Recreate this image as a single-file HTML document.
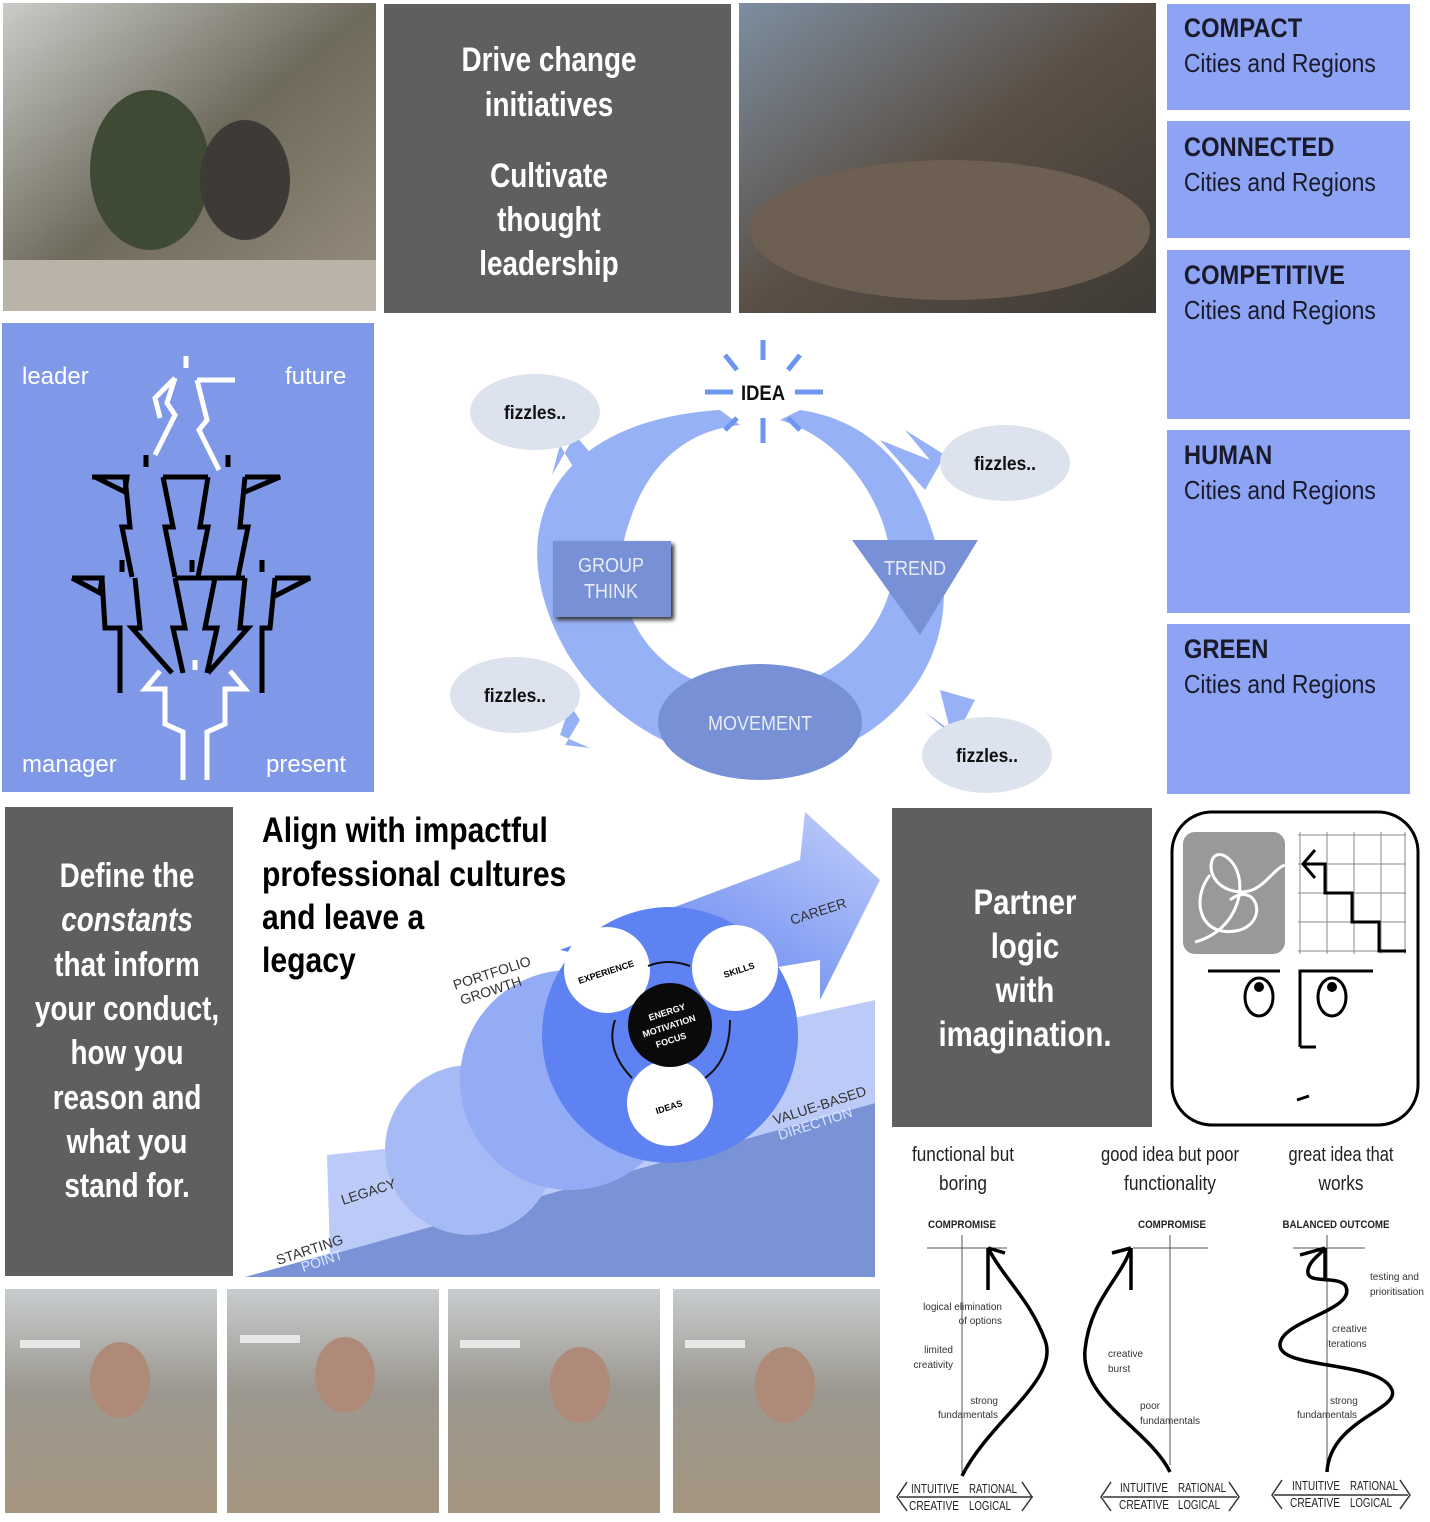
<!DOCTYPE html>
<html><head><meta charset="utf-8"><style>
html,body{margin:0;padding:0;background:#fff}
svg{display:block}
text{font-family:"Liberation Sans",sans-serif}
</style></head><body>
<svg width="1430" height="1522" viewBox="0 0 1430 1522" xmlns="http://www.w3.org/2000/svg">
<defs>
<linearGradient id="p1" x1="0" y1="0" x2="1" y2="1"><stop offset="0" stop-color="#c9ccc8"/><stop offset=".5" stop-color="#6e6a5c"/><stop offset="1" stop-color="#9a8f80"/></linearGradient>
<linearGradient id="p2" x1="0" y1="0" x2="1" y2="1"><stop offset="0" stop-color="#7d8ea0"/><stop offset=".5" stop-color="#5a4f45"/><stop offset="1" stop-color="#3e3a35"/></linearGradient>
<linearGradient id="p3" x1="0" y1="0" x2="0" y2="1"><stop offset="0" stop-color="#c8ccce"/><stop offset=".45" stop-color="#9c9890"/><stop offset="1" stop-color="#a59680"/></linearGradient>
<linearGradient id="arr" x1="0" y1="1" x2="1" y2="0"><stop offset="0" stop-color="#4f74ee"/><stop offset="1" stop-color="#c2cffa"/></linearGradient>
</defs>

<rect x="3" y="3" width="373" height="308" fill="url(#p1)"/>
<ellipse cx="150" cy="170" rx="60" ry="80" fill="#3f4a34"/>
<ellipse cx="245" cy="180" rx="45" ry="60" fill="#3d3a38"/>
<rect x="3" y="260" width="373" height="51" fill="#b9b3a8"/>
<rect x="384" y="4" width="347" height="309" fill="#5f5f5f"/>
<g fill="#fff" font-weight="bold" font-size="34" text-anchor="middle" transform="matrix(0.82 0 0 1 98.8 0)">
<text x="549" y="71">Drive change</text><text x="549" y="116">initiatives</text>
<text x="549" y="187">Cultivate</text><text x="549" y="231">thought</text><text x="549" y="275">leadership</text></g>
<rect x="739" y="3" width="417" height="310" fill="url(#p2)"/>
<ellipse cx="950" cy="230" rx="200" ry="70" fill="#6d5f52"/>

<g fill="#8da4f4">
<rect x="1167" y="4" width="243" height="106"/><rect x="1167" y="121" width="243" height="117"/>
<rect x="1167" y="250" width="243" height="169"/><rect x="1167" y="430" width="243" height="183"/>
<rect x="1167" y="624" width="243" height="170"/></g>
<g fill="#1a1a2a" font-size="27" transform="matrix(0.88 0 0 1 142 0)">
<text x="1184" y="37" font-weight="bold">COMPACT</text><text x="1184" y="72" font-size="26">Cities and Regions</text>
<text x="1184" y="156" font-weight="bold">CONNECTED</text><text x="1184" y="191" font-size="26">Cities and Regions</text>
<text x="1184" y="284" font-weight="bold">COMPETITIVE</text><text x="1184" y="319" font-size="26">Cities and Regions</text>
<text x="1184" y="464" font-weight="bold">HUMAN</text><text x="1184" y="499" font-size="26">Cities and Regions</text>
<text x="1184" y="658" font-weight="bold">GREEN</text><text x="1184" y="693" font-size="26">Cities and Regions</text></g>

<rect x="2" y="323" width="372" height="469" fill="#7f98e8"/>
<g fill="#fff" font-size="24"><text x="22" y="384">leader</text><text x="285" y="384">future</text>
<text x="22" y="772">manager</text><text x="266" y="772">present</text></g>
<g fill="none" stroke="#fff" stroke-width="5">
<path d="M186 356v12 M197 380h38 M175 378l-20 20 5 20 M175 378l-8 25 8 12 -20 40 M197 380l10 40 -8 10 20 40"/>
<path d="M183 780v-48l-18-8v-35l-20 0 15-18 M207 780v-48l18-8v-35l20 0-15-18 M195 660v10"/></g>
<g fill="none" stroke="#000" stroke-width="5">
<path d="M146 455v12 M228 455v12 M122 560v12 M192 560v12 M262 560v12"/>
<path d="M92 477h35l-2 15 -30-15 M125 477l5 50-8 0 10 50 M163 477l10 50-8 0 10 50 M163 477h45 M208 477l-8 50 8 0 -10 50 M245 477l-5 50 8 0-10 50 M245 477h35l-35 15"/>
<path d="M72 578h30l-2 15-28-15 M102 578l3 50 15 0v65 M135 578l5 50-8 0 40 45 M175 578l10 50-12 0 10 45 M175 578h70 M215 578l-10 50 12 0-10 45 M245 578l-5 50 8 0-40 45 M275 578l-5 50-8 0v65 M275 578h35l-35 18"/></g>

<g fill="#97b1f6">
<path d="M720 410 C560 420 500 520 560 640 C600 720 700 780 800 760 C900 740 960 650 940 560 C920 470 870 420 800 410 L780 420 C850 440 900 520 890 590 C870 660 800 700 730 690 C650 680 600 600 630 520 C650 460 690 430 740 425 Z"/>
<path d="M593 500 L560 445 L552 475 L575 435 L605 470 Z"/>
<path d="M880 440 L930 460 L905 430 L945 455 L925 490 Z"/>
<path d="M940 690 L950 730 L925 712 L955 738 L975 700 Z"/>
<path d="M580 720 L565 745 L590 748 L560 735 L570 705 Z"/>
</g>
<g fill="#dde2ef"><ellipse cx="535" cy="412" rx="65" ry="38"/><ellipse cx="1005" cy="463" rx="65" ry="38"/>
<ellipse cx="515" cy="695" rx="65" ry="38"/><ellipse cx="987" cy="755" rx="65" ry="38"/></g>
<g font-size="19" font-weight="bold" fill="#111" text-anchor="middle"><text x="535" y="419" textLength="62" lengthAdjust="spacingAndGlyphs">fizzles..</text><text x="1005" y="470" textLength="62" lengthAdjust="spacingAndGlyphs">fizzles..</text><text x="515" y="702" textLength="62" lengthAdjust="spacingAndGlyphs">fizzles..</text><text x="987" y="762" textLength="62" lengthAdjust="spacingAndGlyphs">fizzles..</text></g>
<g stroke="#6e95f0" stroke-width="5"><path d="M763 340v20 M763 418v25 M705 392h28 M795 392h28 M725 355l12 15 M800 355l-12 15 M725 430l12-12 M800 430l-12-12"/></g>
<text x="763" y="400" font-size="21" font-weight="bold" text-anchor="middle" fill="#111" textLength="44" lengthAdjust="spacingAndGlyphs">IDEA</text>
<rect x="553" y="541" width="118" height="76" fill="#7891d6" filter="drop-shadow(3px 3px 2px #333)"/>
<text x="611" y="572" font-size="20" fill="#e8ecf8" text-anchor="middle" textLength="66" lengthAdjust="spacingAndGlyphs">GROUP</text><text x="611" y="598" font-size="20" fill="#e8ecf8" text-anchor="middle" textLength="54" lengthAdjust="spacingAndGlyphs">THINK</text>
<path d="M852 540 L978 540 L920 635 Z" fill="#7891d6"/>
<text x="915" y="575" font-size="20" fill="#e8ecf8" text-anchor="middle" textLength="62" lengthAdjust="spacingAndGlyphs">TREND</text>
<ellipse cx="760" cy="722" rx="102" ry="58" fill="#7891d6"/>
<text x="760" y="730" font-size="20" fill="#e8ecf8" text-anchor="middle" textLength="104" lengthAdjust="spacingAndGlyphs">MOVEMENT</text>

<rect x="5" y="807" width="228" height="469" fill="#5f5f5f"/>
<g fill="#fff" font-weight="bold" font-size="34" text-anchor="middle" transform="matrix(0.82 0 0 1 22.9 0)">
<text x="127" y="887">Define the</text><text x="127" y="931" font-style="italic">constants</text><text x="127" y="976">that inform</text>
<text x="127" y="1020">your conduct,</text><text x="127" y="1064">how you</text><text x="127" y="1109">reason and</text>
<text x="127" y="1153">what you</text><text x="127" y="1197">stand for.</text></g>

<path d="M245 1277 L875 1103 L875 1277 Z" fill="#7a93d6"/>
<path d="M327 1155 L470 1140 L560 1070 L875 1000 L875 1103 L330 1255 Z" fill="#bccaf7"/>
<circle cx="470" cy="1150" r="85" fill="#a6baf5"/>
<circle cx="570" cy="1080" r="110" fill="#94acf6"/>
<path d="M560 950 L800 860 L805 812 L880 880 L820 1000 L820 960 L700 980 Z" fill="url(#arr)"/>
<circle cx="670" cy="1035" r="128" fill="#5f82f2"/>
<circle cx="607" cy="970" r="43" fill="#fff"/><circle cx="735" cy="968" r="43" fill="#fff"/><circle cx="670" cy="1103" r="43" fill="#fff"/>
<circle cx="670" cy="1025" r="42" fill="#0a0a0a"/>
<path d="M648 966 Q668 958 690 966 M730 1020 Q730 1060 705 1078 M632 1078 Q605 1050 615 1020" fill="none" stroke="#111" stroke-width="2"/>
<g font-size="9" font-weight="bold" text-anchor="middle"><text x="607" y="975" transform="rotate(-18 607 975)">EXPERIENCE</text>
<text x="740" y="973" transform="rotate(-18 740 973)">SKILLS</text><text x="670" y="1110" transform="rotate(-18 670 1110)">IDEAS</text>
<g fill="#fff"><text x="668" y="1015" transform="rotate(-18 668 1015)">ENERGY</text><text x="670" y="1029" transform="rotate(-18 670 1029)">MOTIVATION</text><text x="672" y="1043" transform="rotate(-18 672 1043)">FOCUS</text></g></g>
<g font-size="14" fill="#333"><text x="792" y="925" transform="rotate(-18 792 925)">CAREER</text>
<text x="455" y="990" transform="rotate(-18 455 990)">PORTFOLIO</text><text x="462" y="1005" transform="rotate(-18 462 1005)">GROWTH</text>
<text x="343" y="1205" transform="rotate(-18 343 1205)">LEGACY</text><text x="278" y="1265" transform="rotate(-18 278 1265)">STARTING</text>
<text x="303" y="1272" transform="rotate(-18 303 1272)" fill="#dde6ff">POINT</text>
<text x="775" y="1125" transform="rotate(-18 775 1125)">VALUE-BASED</text><text x="780" y="1140" transform="rotate(-18 780 1140)" fill="#dde6ff">DIRECTION</text></g>
<g font-size="35" font-weight="bold" fill="#000" transform="matrix(0.86 0 0 1 36.7 0)"><text x="262" y="842">Align with impactful</text><text x="262" y="886">professional cultures</text>
<text x="262" y="929">and leave a</text><text x="262" y="972">legacy</text></g>

<rect x="892" y="808" width="260" height="319" fill="#5f5f5f"/>
<g fill="#fff" font-weight="bold" font-size="35" text-anchor="middle" transform="matrix(0.84 0 0 1 164 0)"><text x="1025" y="914">Partner</text><text x="1025" y="958">logic</text><text x="1025" y="1002">with</text><text x="1025" y="1046">imagination.</text></g>

<rect x="1172" y="812" width="246" height="313" rx="40" fill="#fff" stroke="#000" stroke-width="3"/>
<rect x="1183" y="832" width="102" height="122" rx="12" fill="#999"/>
<path d="M1195 942 C1240 930 1250 880 1230 860 C1210 840 1200 880 1230 890 C1260 900 1270 870 1285 865 M1210 875 C1190 900 1200 940 1240 930 C1270 920 1255 880 1230 900" fill="none" stroke="#fff" stroke-width="3"/>
<g stroke="#888" stroke-width="1"><path d="M1300 832v122 M1327 832v122 M1354 832v122 M1381 832v122 M1405 832v122 M1298 835h108 M1298 864h108 M1298 893h108 M1298 922h108 M1298 951h108"/></g>
<path d="M1303 864h22v29h27v29h27v29h27 M1315 850l-12 14 12 14" fill="none" stroke="#000" stroke-width="3"/>
<path d="M1208 971h72 M1300 1047v-76h73 M1300 1047h16 M1297 1100l12-4" stroke="#000" stroke-width="3" fill="none"/>
<ellipse cx="1259" cy="997" rx="14" ry="19" fill="#fff" stroke="#000" stroke-width="3"/><circle cx="1259" cy="987" r="5"/>
<ellipse cx="1332" cy="997" rx="14" ry="19" fill="#fff" stroke="#000" stroke-width="3"/><circle cx="1332" cy="987" r="5"/>

<g font-size="20" fill="#222" text-anchor="middle"><text x="963" y="1161" textLength="102" lengthAdjust="spacingAndGlyphs">functional but</text><text x="963" y="1190" textLength="48" lengthAdjust="spacingAndGlyphs">boring</text>
<text x="1170" y="1161" textLength="138" lengthAdjust="spacingAndGlyphs">good idea but poor</text><text x="1170" y="1190" textLength="92" lengthAdjust="spacingAndGlyphs">functionality</text>
<text x="1341" y="1161" textLength="105" lengthAdjust="spacingAndGlyphs">great idea that</text><text x="1341" y="1190" textLength="45" lengthAdjust="spacingAndGlyphs">works</text></g>
<g font-size="11" font-weight="bold" fill="#222" text-anchor="middle"><text x="962" y="1228" textLength="68" lengthAdjust="spacingAndGlyphs">COMPROMISE</text><text x="1172" y="1228" textLength="68" lengthAdjust="spacingAndGlyphs">COMPROMISE</text><text x="1336" y="1228" textLength="107" lengthAdjust="spacingAndGlyphs">BALANCED OUTCOME</text></g>
<g stroke="#555" stroke-width="1"><path d="M927 1248h80 M962 1235v240 M1133 1248h75 M1170 1235v230 M1293 1248h72 M1327 1235v235"/></g>
<g fill="none" stroke="#000" stroke-width="3.5">
<path d="M962 1476 C990 1420 1060 1380 1045 1340 C1030 1300 1005 1280 988 1248 M988 1248 L1005 1253 M988 1248 V1290"/>
<path d="M1170 1472 C1150 1430 1080 1400 1085 1350 C1090 1300 1120 1280 1131 1248 M1131 1248 L1112 1253 M1131 1248 V1290"/>
<path d="M1327 1472 C1330 1420 1400 1410 1392 1390 C1380 1360 1280 1370 1280 1345 C1280 1320 1360 1310 1345 1285 C1335 1275 1305 1285 1308 1270 C1310 1260 1320 1255 1325 1248 M1325 1248 L1300 1255 M1325 1248 V1280"/></g>
<g font-size="10" fill="#333" text-anchor="end"><text x="1002" y="1310">logical elimination</text><text x="1002" y="1324">of options</text>
<text x="953" y="1353">limited</text><text x="953" y="1368">creativity</text><text x="998" y="1404">strong</text><text x="998" y="1418">fundamentals</text></g>
<g font-size="10" fill="#333"><text x="1108" y="1357">creative</text><text x="1108" y="1372">burst</text><text x="1140" y="1409">poor</text><text x="1140" y="1424">fundamentals</text>
<text x="1370" y="1280">testing and</text><text x="1370" y="1295">prioritisation</text><text x="1332" y="1332">creative</text><text x="1326" y="1347">iterations</text>
<text x="1330" y="1404">strong</text><text x="1297" y="1418">fundamentals</text></g>
<g font-size="13" fill="#222">
<text x="911" y="1493" textLength="48" lengthAdjust="spacingAndGlyphs">INTUITIVE</text><text x="969" y="1493" textLength="48" lengthAdjust="spacingAndGlyphs">RATIONAL</text><text x="909" y="1510" textLength="50" lengthAdjust="spacingAndGlyphs">CREATIVE</text><text x="969" y="1510" textLength="42" lengthAdjust="spacingAndGlyphs">LOGICAL</text>
<text x="1120" y="1492" textLength="48" lengthAdjust="spacingAndGlyphs">INTUITIVE</text><text x="1178" y="1492" textLength="48" lengthAdjust="spacingAndGlyphs">RATIONAL</text><text x="1119" y="1509" textLength="50" lengthAdjust="spacingAndGlyphs">CREATIVE</text><text x="1178" y="1509" textLength="42" lengthAdjust="spacingAndGlyphs">LOGICAL</text>
<text x="1292" y="1490" textLength="48" lengthAdjust="spacingAndGlyphs">INTUITIVE</text><text x="1350" y="1490" textLength="48" lengthAdjust="spacingAndGlyphs">RATIONAL</text><text x="1290" y="1507" textLength="50" lengthAdjust="spacingAndGlyphs">CREATIVE</text><text x="1350" y="1507" textLength="42" lengthAdjust="spacingAndGlyphs">LOGICAL</text></g>
<g fill="none" stroke="#333" stroke-width="1.5"><path d="M907 1482l-10 15 10 14 M1022 1482l10 15-10 14 M899 1497h134 M1111 1482l-10 15 10 14 M1229 1482l10 15-10 14 M1103 1497h134 M1282 1480l-10 15 10 14 M1400 1480l10 15-10 14 M1274 1495h134"/></g>

<rect x="5" y="1289" width="212" height="224" fill="url(#p3)"/><rect x="227" y="1289" width="212" height="224" fill="url(#p3)"/>
<rect x="448" y="1289" width="212" height="224" fill="url(#p3)"/><rect x="673" y="1289" width="207" height="224" fill="url(#p3)"/>
<ellipse cx="120" cy="1380" rx="30" ry="38" fill="#b08a78"/><ellipse cx="345" cy="1375" rx="30" ry="38" fill="#b08a78"/>
<ellipse cx="580" cy="1385" rx="30" ry="38" fill="#b08a78"/><ellipse cx="785" cy="1385" rx="30" ry="38" fill="#b08a78"/>
<g fill="#e6e8e8"><rect x="20" y="1340" width="60" height="8"/><rect x="240" y="1335" width="60" height="8"/><rect x="460" y="1340" width="60" height="8"/><rect x="685" y="1340" width="60" height="8"/></g>
</svg>
</body></html>
